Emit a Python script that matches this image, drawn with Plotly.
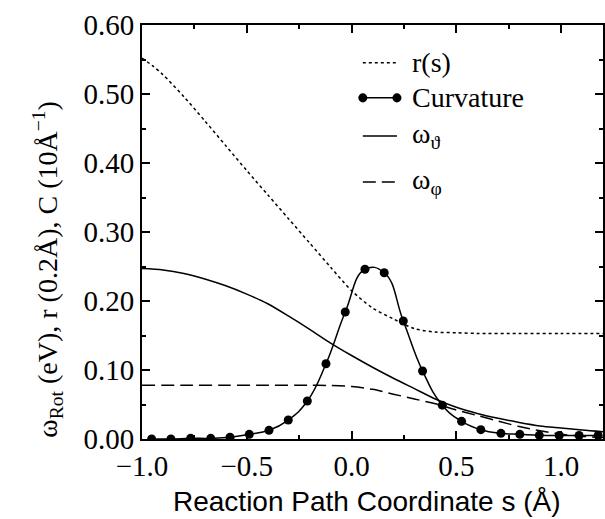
import plotly.graph_objects as go

# Reaction path coordinate grids (Å)
s_r = [-1.0, -0.95, -0.9, -0.8, -0.7, -0.6, -0.5, -0.4, -0.3, -0.2, -0.1,
       0.0, 0.1, 0.2, 0.3, 0.4, 0.5, 0.6, 0.8, 1.0, 1.2]
r_s = [0.552, 0.541, 0.528, 0.496, 0.461, 0.425, 0.389, 0.354, 0.319, 0.284, 0.249,
       0.215, 0.190, 0.174, 0.160, 0.155, 0.154, 0.153, 0.153, 0.153, 0.153]

s_theta = [-1.0, -0.9, -0.8, -0.7, -0.6, -0.5, -0.4, -0.3, -0.2, -0.1, 0.0, 0.1,
           0.2, 0.3, 0.4, 0.5, 0.6, 0.7, 0.8, 0.9, 1.0, 1.1, 1.2]
w_theta = [0.247, 0.245, 0.240, 0.232, 0.222, 0.210, 0.196, 0.178, 0.159, 0.139, 0.121, 0.104,
           0.088, 0.073, 0.058, 0.046, 0.037, 0.030, 0.024, 0.019, 0.016, 0.013, 0.0106]

s_phi = [-1.0, -0.8, -0.6, -0.4, -0.2, -0.1, 0.0, 0.1, 0.2, 0.3, 0.4, 0.5, 0.6,
         0.7, 0.8, 0.9, 1.0, 1.1, 1.2]
w_phi = [0.078, 0.078, 0.078, 0.078, 0.078, 0.0775, 0.076, 0.072, 0.065, 0.058, 0.051, 0.042, 0.034,
         0.026, 0.018, 0.012, 0.007, 0.004, 0.002]

s_curv = [-0.954, -0.862, -0.768, -0.672, -0.580, -0.488, -0.394, -0.302, -0.211, -0.122,
          -0.030, 0.064, 0.156, 0.247, 0.339, 0.433, 0.525, 0.617, 0.713, 0.803,
          0.896, 0.991, 1.086, 1.177]
curv = [0.0, 0.0, 0.001, 0.001, 0.0025, 0.0068, 0.0126, 0.0275, 0.055, 0.109,
        0.184, 0.246, 0.241, 0.171, 0.0986, 0.049, 0.0256, 0.0135, 0.0082, 0.0068,
        0.0053, 0.005, 0.005, 0.005]

SERIF = "Liberation Serif"
SANS = "Liberation Sans"
LW = 1.5

fig = go.Figure()
fig.add_trace(go.Scatter(x=s_r, y=r_s, mode="lines", name="r(s)",
                         line=dict(color="black", width=LW, dash="dot", shape="spline", smoothing=0.8)))
fig.add_trace(go.Scatter(x=s_theta, y=w_theta, mode="lines", name="ω_ϑ",
                         line=dict(color="black", width=LW, shape="spline", smoothing=0.8)))
fig.add_trace(go.Scatter(x=s_phi, y=w_phi, mode="lines", name="ω_φ",
                         line=dict(color="black", width=LW, dash="13px,6px", shape="spline", smoothing=0.8)))
fig.add_trace(go.Scatter(x=s_curv, y=curv, mode="lines+markers", name="Curvature",
                         line=dict(color="black", width=LW, shape="spline", smoothing=1.3),
                         marker=dict(color="black", size=9)))

# Hand-placed legend (paper coordinates)
leg_x0, leg_x1, leg_tx = 0.479, 0.553, 0.582
legend_rows = [
    ("r(s)", 0.909, "dot", False),
    ("Curvature", 0.824, "solid", True),
    ("ω<sub>ϑ</sub>", 0.732, "solid", False),
    ("ω<sub>φ</sub>", 0.621, "13px,6px", False),
]
shapes = []
annotations = []
for label, yy, dash, dots in legend_rows:
    shapes.append(dict(type="line", xref="paper", yref="paper", x0=leg_x0, x1=leg_x1,
                       y0=yy, y1=yy, line=dict(color="black", width=LW, dash=dash)))
    if dots:
        for xx in (leg_x0, leg_x1):
            shapes.append(dict(type="circle", xref="paper", yref="paper",
                               x0=xx - 0.0098, x1=xx + 0.0098, y0=yy - 0.0109, y1=yy + 0.0109,
                               fillcolor="black", line=dict(color="black", width=0)))
    annotations.append(dict(text=label, xref="paper", yref="paper", x=leg_tx, y=yy,
                            xanchor="left", yanchor="middle", showarrow=False,
                            font=dict(family=SERIF, size=28, color="black")))

# Axis titles
annotations.append(dict(text="ω<sub>Rot</sub> (eV), r (0.2Å), C (10Å<sup>−1</sup>)",
                        xref="paper", yref="paper", x=-0.205, y=0.41, textangle=-90,
                        xanchor="center", yanchor="middle", showarrow=False,
                        font=dict(family=SERIF, size=28, color="black")))
annotations.append(dict(text="Reaction Path Coordinate s (Å)",
                        xref="paper", yref="paper", x=0.487, y=-0.152,
                        xanchor="center", yanchor="middle", showarrow=False,
                        font=dict(family=SANS, size=28, color="black")))

fig.update_layout(
    width=605, height=519,
    margin=dict(l=142, r=2, t=25, b=80),
    paper_bgcolor="white", plot_bgcolor="white",
    font=dict(family=SERIF, color="black"),
    showlegend=False,
    shapes=shapes, annotations=annotations,
    xaxis=dict(range=[-1.0, 1.2], dtick=0.5, tick0=0, tickformat=".1f", automargin=False,
               showgrid=False, zeroline=False, showline=True, linecolor="black", linewidth=2,
               mirror="allticks", ticks="inside", ticklen=8, tickwidth=1.5, tickcolor="black",
               minor=dict(dtick=0.25, ticks="inside", ticklen=4, tickwidth=1.5, tickcolor="black"),
               tickfont=dict(family=SERIF, size=29, color="black")),
    yaxis=dict(range=[0, 0.6], dtick=0.1, tickformat=".2f", automargin=False,
               showgrid=False, zeroline=False, showline=True, linecolor="black", linewidth=2,
               mirror="allticks", ticks="inside", ticklen=8, tickwidth=1.5, tickcolor="black",
               minor=dict(dtick=0.05, ticks="inside", ticklen=4, tickwidth=1.5, tickcolor="black"),
               tickfont=dict(family=SERIF, size=29, color="black"), ticklabelstandoff=0),
)

fig.write_html("out.html")
